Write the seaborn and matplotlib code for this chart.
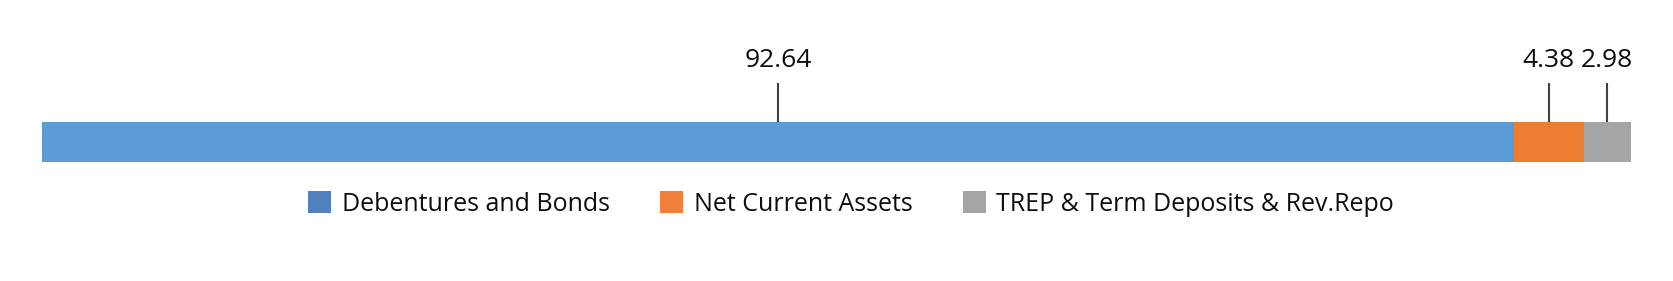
import matplotlib
matplotlib.use("Agg")
import matplotlib.pyplot as plt
from matplotlib.patches import Patch
import matplotlib.transforms as mtransforms
import seaborn as sns
import pandas as pd
import numpy as np

categories = ["Debentures and Bonds", "Net Current Assets", "TREP & Term Deposits & Rev.Repo"]
values = [92.64, 4.38, 2.98]
labels = ["92.64", "4.38", "2.98"]
colors = ["#5B9BD5", "#ED7D31", "#A5A5A5"]
legend_colors = ["#4F81BD", "#F0803A", "#A5A5A5"]

sns.set_theme(style="white")
plt.rcParams["font.family"] = ["Open Sans", "DejaVu Sans"]

W, H = 1673, 281
fig = plt.figure(figsize=(W / 100, H / 100), dpi=100)
ax = fig.add_axes([41.7 / W, 1 - 161.7 / H, 1589.3 / W, 40 / H])

cum = np.cumsum(values)
# stacked bar: draw cumulative totals from largest to smallest
for i in reversed(range(len(values))):
    df = pd.DataFrame({"row": ["Portfolio"], "val": [cum[i]]})
    sns.barplot(data=df, x="val", y="row", orient="h", color=colors[i],
                width=1.0, saturation=1, ax=ax, edgecolor="none", linewidth=0)

ax.set_xlim(0, cum[-1])
ax.set_ylim(0.5, -0.5)
ax.axis("off")

trans = mtransforms.blended_transform_factory(ax.transData, ax.transAxes)
starts = cum - np.array(values)
for s, v, lab in zip(starts, values, labels):
    cx = s + v / 2
    ax.plot([cx, cx], [1.0, 1.975], transform=trans, color="#404040",
            lw=1.5, clip_on=False, solid_capstyle="butt")
    ax.text(cx, 2.36, lab, transform=trans, ha="center", va="baseline",
            fontsize=19, color="#0d0d0d")

handles = [Patch(facecolor=c, edgecolor="none") for c in legend_colors]
fig.legend(handles, categories, loc="center", bbox_to_anchor=(851 / W, 1 - 204 / H),
           ncol=3, frameon=False, fontsize=18, handlelength=0.92, handleheight=0.92,
           handletextpad=0.44, columnspacing=2.0, labelcolor="#0d0d0d")

fig.savefig("out.png", dpi=100)
